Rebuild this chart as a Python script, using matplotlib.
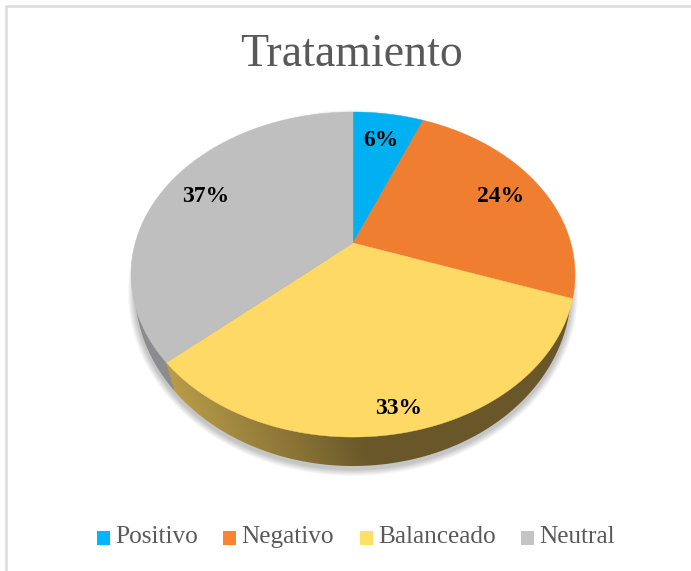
import numpy as np
import matplotlib
matplotlib.use('Agg')
import matplotlib.pyplot as plt
from matplotlib.patches import Polygon, Rectangle

categorias = ['Positivo', 'Negativo', 'Balanceado', 'Neutral']
valores = [6.2, 24.2, 33.0, 36.6]
colores = ['#00B0F0', '#F07E30', '#FFD966', '#BFBFBF']
leg_colores = ['#00B7FF', '#F98533', '#FFE066', '#C4C4C4']
etiquetas = ['6%', '24%', '33%', '37%']

plt.rcParams['font.family'] = ['Liberation Serif', 'DejaVu Serif']

fig = plt.figure(figsize=(6.91, 5.71), dpi=100)
ax = fig.add_axes([0, 0, 1, 1])
ax.set_xlim(0, 691)
ax.set_ylim(571, 0)
ax.axis('off')

# proyeccion del circulo de la tarta (perspectiva)
cx, cy = 353, 243
k = 0.194
A = 156.4
B = 217.8


def proyecta(ang, r=1.0):
    # ang en fraccion de vuelta desde arriba, en sentido horario
    x = r * np.sin(2 * np.pi * ang)
    y = r * np.cos(2 * np.pi * ang)
    d = 1 + k * y
    return cx + B * x / d, cy - A * y / d


fracs = np.array(valores) / sum(valores)
limites = np.concatenate([[0], np.cumsum(fracs)])

# marco
ax.plot([6, 6, 691], [571, 6, 6], color='#DCDCDC', lw=1.8)

# base de la tarta, algo menor que la cara superior
t = np.linspace(0, 2 * np.pi, 400)
bx, by, brx, bry = 353, 290, 218, 176
base = np.column_stack([bx + brx * np.cos(t), by + bry * np.sin(t)])

# sombra difusa
for g in range(10, 0, -1):
    sombra = np.column_stack([bx + (brx + g * 0.7) * np.cos(t),
                              by + 3 + (bry + g * 0.7) * np.sin(t)])
    ax.add_patch(Polygon(sombra, closed=True, fc='black', ec='none', alpha=0.022))

# lateral con degradado
xs = np.arange(120, 590)
ys = np.arange(260, 480)
gx, gy = np.meshgrid(xs, ys)
claro = np.array([0xB8, 0x9C, 0x48]) / 255
oscuro = np.array([0x69, 0x57, 0x2A]) / 255
gris = np.array([0x8C, 0x8C, 0x90]) / 255
sx, sy = proyecta(limites[3])
corte = sx + (gy - sy) * 0.3
w = np.clip((gx - corte) / 175, 0, 1)[..., None]
img = claro * (1 - w) + oscuro * w
img[gx < corte] = gris
im = ax.imshow(img, extent=(119.5, 589.5, 479.5, 259.5), aspect='auto', zorder=2)
ax.set_xlim(0, 691)
ax.set_ylim(571, 0)
clip = Polygon(base, closed=True, transform=ax.transData)
im.set_clip_path(clip)

# cara superior
for i, c in enumerate(colores):
    a = np.linspace(limites[i], limites[i + 1], 200)
    px, py = proyecta(a)
    vx = np.concatenate([[cx], px])
    vy = np.concatenate([[cy], py])
    ax.fill(vx, vy, color=c, lw=0.3, zorder=3)

# porcentajes
radios = [0.77, 0.79, 0.89, 0.79]
for i, e in enumerate(etiquetas):
    medio = (limites[i] + limites[i + 1]) / 2
    lx, ly = proyecta(medio, radios[i])
    ax.text(lx, ly + 1, e, fontsize=17, fontweight='bold', color='black',
            ha='center', va='center', zorder=4)

ax.text(352, 55, 'Tratamiento', fontsize=33, color='#595959',
        ha='center', va='center')

# leyenda
cuad_x = [97, 223, 360, 521]
for i, nombre in enumerate(categorias):
    ax.add_patch(Rectangle((cuad_x[i], 531), 13, 14, fc=leg_colores[i], ec='none'))
    ax.text(cuad_x[i] + 18, 537, nombre, fontsize=18.2, color='#595959',
            ha='left', va='center')

fig.savefig('out.png', dpi=100)
